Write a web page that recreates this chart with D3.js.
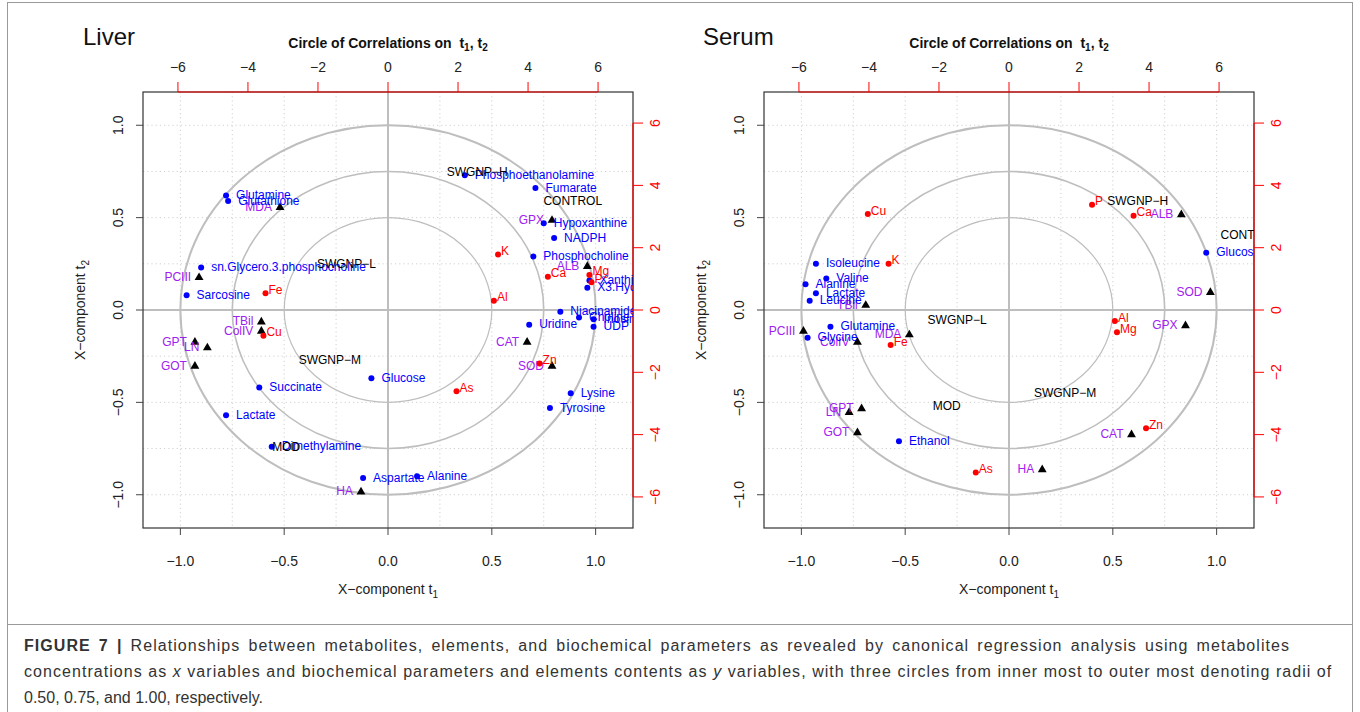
<!DOCTYPE html>
<html><head><meta charset="utf-8">
<script src="https://cdn.jsdelivr.net/npm/d3@7"></script>
<style>
body{margin:0;background:#fff;}
svg text{font-family:"Liberation Sans",Arial,Helvetica,sans-serif;}
</style></head>
<body><svg id="fig" width="1360" height="712"></svg>
<script>
// ---------- Liver ----------
const liverMetabolites = [
  ["Glutamine",-0.78,0.62],["Glutathione",-0.77,0.59],["sn.Glycero.3.phosphocholine",-0.90,0.23],["Sarcosine",-0.97,0.08],
  ["Phosphoethanolamine",0.37,0.73],["Fumarate",0.71,0.66],["Hypoxanthine",0.75,0.47],["NADPH",0.80,0.39],
  ["Phosphocholine",0.70,0.29],["Xanthine",0.97,0.16],["X3.Hydroxybutyrate",0.96,0.12],["Niacinamide",0.83,-0.01],
  ["Choline",0.92,-0.04],["Inosine",0.99,-0.05],["UDP",0.99,-0.09],["Uridine",0.68,-0.08],["Glucose",-0.08,-0.37],
  ["Succinate",-0.62,-0.42],["Lactate",-0.78,-0.57],["Dimethylamine",-0.56,-0.74],["Aspartate",-0.12,-0.91],
  ["Alanine",0.14,-0.90],["Lysine",0.88,-0.45],["Tyrosine",0.78,-0.53]
];
const liverElements = [
  ["Fe",-0.59,0.09],["Cu",-0.60,-0.14],["K",0.53,0.30],["Al",0.51,0.05],["Ca",0.77,0.18],
  ["Mg",0.97,0.19],["P",0.98,0.15],["Zn",0.73,-0.29],["As",0.33,-0.44]
];
const liverParameters = [
  ["MDA",-0.52,0.56],["PCIII",-0.91,0.18],["TBil",-0.61,-0.06],["ColIV",-0.61,-0.11],["GPT",-0.93,-0.17],
  ["LN",-0.87,-0.20],["GOT",-0.93,-0.30],["HA",-0.13,-0.98],["GPX",0.79,0.49],["ALB",0.96,0.24],
  ["CAT",0.67,-0.17],["SOD",0.79,-0.30]
];
const liverGroups = [
  ["SWGNP−H",0.43,0.75],["CONTROL",0.89,0.59],["SWGNP−L",-0.20,0.25],["SWGNP−M",-0.28,-0.27],["MOD",-0.49,-0.74]
];

// ---------- Serum ----------
const serumMetabolites = [
  ["Isoleucine",-0.93,0.25],["Valine",-0.88,0.17],["Alanine",-0.98,0.14],["Lactate",-0.93,0.09],["Leucine",-0.96,0.05],
  ["Glutamine",-0.86,-0.09],["Glycine",-0.97,-0.15],["Ethanol",-0.53,-0.71],["Glucose",0.95,0.31]
];
const serumElements = [
  ["Cu",-0.68,0.52],["K",-0.58,0.25],["Fe",-0.57,-0.19],["P",0.40,0.57],["Ca",0.60,0.51],
  ["Al",0.51,-0.06],["Mg",0.52,-0.12],["As",-0.16,-0.88],["Zn",0.66,-0.64]
];
const serumParameters = [
  ["TBil",-0.69,0.03],["PCIII",-0.99,-0.11],["ColIV",-0.73,-0.17],["MDA",-0.48,-0.13],["GPT",-0.71,-0.53],
  ["LN",-0.77,-0.55],["GOT",-0.73,-0.66],["HA",0.16,-0.86],["CAT",0.59,-0.67],["ALB",0.83,0.52],
  ["SOD",0.97,0.10],["GPX",0.85,-0.08]
];
const serumGroups = [
  ["SWGNP−H",0.62,0.59],["CONTROL",1.16,0.41],["SWGNP−L",-0.25,-0.05],["SWGNP−M",0.27,-0.45],["MOD",-0.30,-0.52]
];

// ---------- axes ----------
const primaryTicks = [-1,-0.5,0,0.5,1];
const secondaryTicks = [-6,-4,-2,0,2,4,6];
const circleRadii = [0.5,0.75,1.0];
const gridSteps = [-1,-0.75,-0.5,-0.25,0.25,0.5,0.75,1];

const COL = {met:"#0000FF", el:"#FF0000", par:"#A020F0", grp:"#000000", ref:"#BEBEBE"};
const LIM = 1.18;       // half-width of the primary axes
const SEC = 5.93;       // ratio of the secondary (score) axes to the primary ones

const svg = d3.select("#fig");
svg.append("rect").attr("width",1360).attr("height",712).attr("fill","#fff");

function subLabel(sel, main, sub){
  sel.append("tspan").text(main);
  sel.append("tspan").attr("font-size",10).attr("dy",4).text(sub);
}

function panel(cfg){
  const {x0,x1,y0,y1} = cfg.box;
  const x = d3.scaleLinear().domain([-LIM,LIM]).range([x0,x1]);
  const y = d3.scaleLinear().domain([-LIM,LIM]).range([y1,y0]);
  const xs = d3.scaleLinear().domain([-LIM*SEC,LIM*SEC]).range([x0,x1]);
  const ys = d3.scaleLinear().domain([-LIM*SEC,LIM*SEC]).range([y1,y0]);
  const g = svg.append("g");
  const clipId = "clip-"+cfg.id;
  g.append("clipPath").attr("id",clipId).append("rect")
    .attr("x",x0).attr("y",y0).attr("width",x1-x0).attr("height",y1-y0);

  // dotted grid
  const grid = g.append("g").attr("stroke","#d0d0d0").attr("stroke-width",1).attr("stroke-dasharray","1.2,3");
  grid.selectAll(".gv").data(gridSteps).join("line")
    .attr("x1",d=>x(d)).attr("x2",d=>x(d)).attr("y1",y0).attr("y2",y1);
  grid.selectAll(".gh").data(gridSteps).join("line")
    .attr("y1",d=>y(d)).attr("y2",d=>y(d)).attr("x1",x0).attr("x2",x1);

  // reference lines through the origin
  g.append("line").attr("x1",x(0)).attr("x2",x(0)).attr("y1",y0).attr("y2",y1)
    .attr("stroke",COL.ref).attr("stroke-width",2);
  g.append("line").attr("y1",y(0)).attr("y2",y(0)).attr("x1",x0).attr("x2",x1)
    .attr("stroke",COL.ref).attr("stroke-width",2);

  // correlation circles
  g.append("g").attr("clip-path",`url(#${clipId})`).selectAll("ellipse").data(circleRadii).join("ellipse")
    .attr("cx",x(0)).attr("cy",y(0))
    .attr("rx",d=>x(d)-x(0)).attr("ry",d=>y(0)-y(d))
    .attr("fill","none").attr("stroke",COL.ref)
    .attr("stroke-width",d=>d===1?2:(d===0.75?1.6:1.2));

  // frame
  g.append("rect").attr("x",x0).attr("y",y0).attr("width",x1-x0).attr("height",y1-y0)
    .attr("fill","none").attr("stroke","#333").attr("stroke-width",1.2);

  // bottom axis
  const bx = g.append("g").attr("font-size",14).attr("fill","#222");
  bx.selectAll("line").data(primaryTicks).join("line")
    .attr("x1",d=>x(d)).attr("x2",d=>x(d)).attr("y1",y1).attr("y2",y1+7).attr("stroke","#444");
  bx.selectAll("text").data(primaryTicks).join("text")
    .attr("x",d=>x(d)).attr("y",y1+38).attr("text-anchor","middle").text(d3.format(".1f"));
  // left axis
  const lx = g.append("g").attr("font-size",14).attr("fill","#222");
  lx.selectAll("line").data(primaryTicks).join("line")
    .attr("y1",d=>y(d)).attr("y2",d=>y(d)).attr("x1",x0).attr("x2",x0-7).attr("stroke","#444");
  lx.selectAll("text").data(primaryTicks).join("text")
    .attr("transform",d=>`translate(${x0-20},${y(d)}) rotate(-90)`)
    .attr("text-anchor","middle").text(d3.format(".1f"));

  // top (secondary) axis
  const tx = g.append("g").attr("font-size",14);
  tx.append("line").attr("x1",xs(-6)).attr("x2",xs(6)).attr("y1",y0).attr("y2",y0)
    .attr("stroke",COL.el).attr("stroke-width",1.2);
  tx.selectAll("line.t").data(secondaryTicks).join("line").attr("class","t")
    .attr("x1",d=>xs(d)).attr("x2",d=>xs(d)).attr("y1",y0).attr("y2",y0-10).attr("stroke",COL.el);
  tx.selectAll("text").data(secondaryTicks).join("text")
    .attr("x",d=>xs(d)).attr("y",y0-20).attr("text-anchor","middle").attr("fill","#222")
    .text(d3.format("d"));
  // right (secondary) axis
  const rx = g.append("g").attr("font-size",14);
  rx.append("line").attr("y1",ys(-6)).attr("y2",ys(6)).attr("x1",x1).attr("x2",x1)
    .attr("stroke",COL.el).attr("stroke-width",1.2);
  rx.selectAll("line.t").data(secondaryTicks).join("line").attr("class","t")
    .attr("y1",d=>ys(d)).attr("y2",d=>ys(d)).attr("x1",x1).attr("x2",x1+10).attr("stroke",COL.el);
  rx.selectAll("text").data(secondaryTicks).join("text")
    .attr("transform",d=>`translate(${x1+27},${ys(d)}) rotate(-90)`)
    .attr("text-anchor","middle").attr("fill",COL.el).text(d3.format("d"));

  // axis titles
  const bt = g.append("text").attr("x",(x0+x1)/2).attr("y",y1+66).attr("text-anchor","middle")
    .attr("font-size",14).attr("fill","#222");
  subLabel(bt,"X−component t","1");
  const lt = g.append("text").attr("transform",`translate(${x0-58},${(y0+y1)/2}) rotate(-90)`)
    .attr("text-anchor","middle").attr("font-size",14).attr("fill","#222");
  subLabel(lt,"X−component t","2");
  const tt = g.append("text").attr("x",(x0+x1)/2).attr("y",y0-44).attr("text-anchor","middle")
    .attr("font-size",14).attr("font-weight","bold").attr("fill","#111");
  tt.append("tspan").text("Circle of Correlations on\u00a0\u00a0t");
  tt.append("tspan").attr("font-size",10).attr("dy",3).text("1");
  tt.append("tspan").attr("dy",-3).text(", t");
  tt.append("tspan").attr("font-size",10).attr("dy",3).text("2");

  // panel name
  g.append("text").attr("x",cfg.nameX).attr("y",45).attr("font-size",24).attr("fill","#111").text(cfg.name);

  // marks and labels (clipped to the plotting region)
  const pts = g.append("g").attr("clip-path",`url(#${clipId})`);
  const fs = 12;

  // biochemical parameters: black triangles, purple labels on the left
  pts.selectAll("path.par").data(cfg.par).join("path").attr("class","par")
    .attr("transform",d=>`translate(${x(d[1])},${y(d[2])+0.8})`)
    .attr("d",d3.symbol(d3.symbolTriangle,34)).attr("fill","#000");
  pts.selectAll("text.par").data(cfg.par).join("text").attr("class","par")
    .attr("x",d=>x(d[1])-8).attr("y",d=>y(d[2])).attr("dy","0.36em")
    .attr("text-anchor","end").attr("font-size",fs).attr("fill",COL.par).text(d=>d[0]);

  // metabolites: blue dots, labels on the right
  pts.selectAll("circle.met").data(cfg.met).join("circle").attr("class","met")
    .attr("cx",d=>x(d[1])).attr("cy",d=>y(d[2])).attr("r",3).attr("fill",COL.met);
  pts.selectAll("text.met").data(cfg.met).join("text").attr("class","met")
    .attr("x",d=>x(d[1])+10).attr("y",d=>y(d[2])).attr("dy","0.3em")
    .attr("font-size",fs).attr("fill",COL.met).text(d=>d[0]);

  // elements: red dots, labels up-right
  pts.selectAll("circle.el").data(cfg.el).join("circle").attr("class","el")
    .attr("cx",d=>x(d[1])).attr("cy",d=>y(d[2])).attr("r",3).attr("fill",COL.el);
  pts.selectAll("text.el").data(cfg.el).join("text").attr("class","el")
    .attr("x",d=>x(d[1])+3).attr("y",d=>y(d[2])-3).attr("dy","0.3em")
    .attr("font-size",fs).attr("fill",COL.el).text(d=>d[0]);

  // treatment groups: centred black text
  pts.selectAll("text.grp").data(cfg.grp).join("text").attr("class","grp")
    .attr("x",d=>x(d[1])).attr("y",d=>y(d[2])).attr("dy","0.36em").attr("text-anchor","middle")
    .attr("font-size",fs).attr("fill",COL.grp).text(d=>d[0]);
}

panel({id:"liver", name:"Liver", nameX:83, box:{x0:143,x1:633,y0:92,y1:528},
  met:liverMetabolites, el:liverElements, par:liverParameters, grp:liverGroups});
panel({id:"serum", name:"Serum", nameX:703, box:{x0:764,x1:1254,y0:92,y1:528},
  met:serumMetabolites, el:serumElements, par:serumParameters, grp:serumGroups});

// figure frame and caption
svg.append("rect").attr("x",7.5).attr("y",2.5).attr("width",1345).attr("height",740)
  .attr("fill","none").attr("stroke","#9a9a9a").attr("stroke-width",1);
svg.append("line").attr("x1",7).attr("x2",1353).attr("y1",624.5).attr("y2",624.5)
  .attr("stroke","#9a9a9a").attr("stroke-width",1);

const capLines = [
  [["FIGURE 7 |","b"],[" Relationships between metabolites, elements, and biochemical parameters as revealed by canonical regression analysis using metabolites",""]],
  [["concentrations as ",""],["x","i"],[" variables and biochemical parameters and elements contents as ",""],["y","i"],[" variables, with three circles from inner most to outer most denoting radii of",""]],
  [["0.50, 0.75, and 1.00, respectively.",""]]
];
// caption set in a loosely tracked face; full lines are filled out to the column
const capWidths = [1266, 1300, null];
const cap = svg.append("g").attr("font-size",16).attr("fill","#333");
capLines.forEach((line,i)=>{
  const t = cap.append("text").attr("x",24).attr("y",651+i*26);
  line.forEach(([s,st])=>{
    const sp = t.append("tspan").text(s);
    if (st==="b") sp.attr("font-weight","bold");
    if (st==="i") sp.attr("font-style","italic");
  });
  if (capWidths[i]) {
    t.attr("letter-spacing",1.05);
    const natural = t.node().getComputedTextLength();
    const spaces = line.map(d=>d[0]).join("").split(" ").length - 1;
    t.attr("word-spacing", Math.max(0,(capWidths[i]-natural)/spaces).toFixed(2));
  }
});
</script>
</body></html>
